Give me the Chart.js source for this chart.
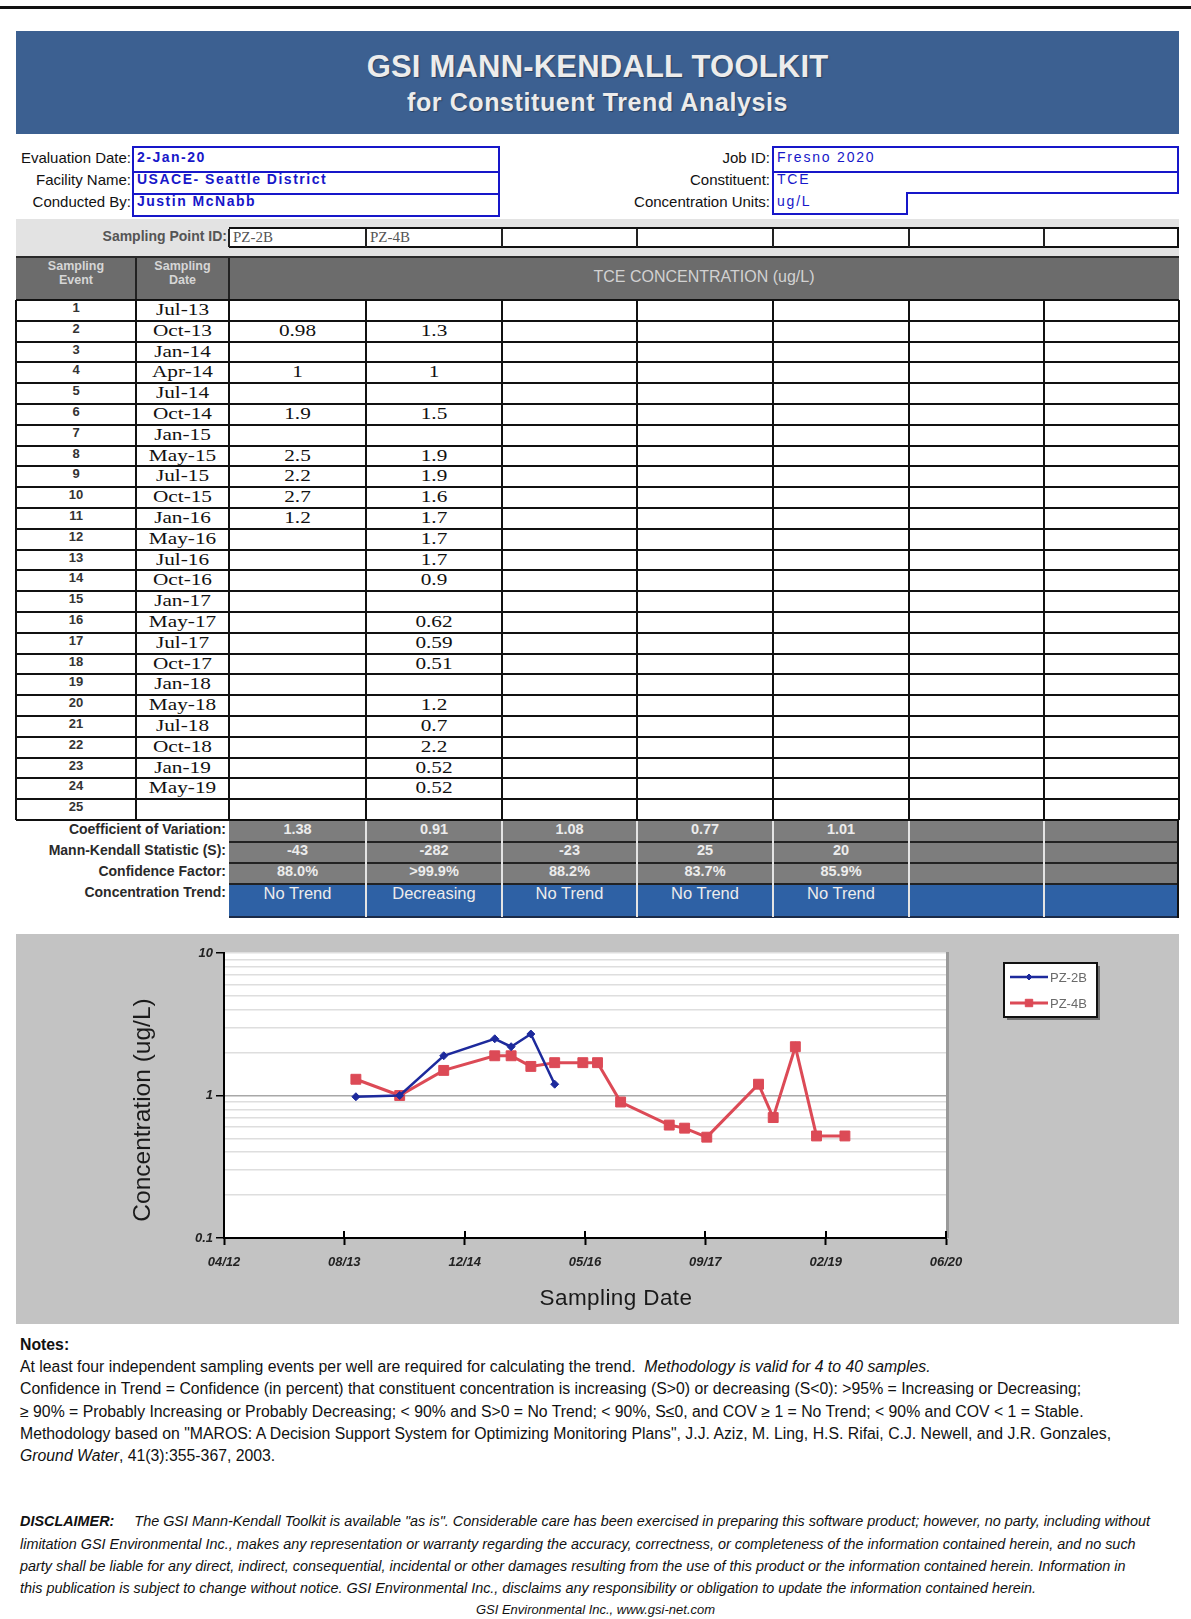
<!DOCTYPE html>
<html>
<head>
<meta charset="utf-8">
<script src="https://cdn.jsdelivr.net/npm/chart.js@4.4.1/dist/chart.umd.min.js"></script>
<style>
html,body{margin:0;padding:0;background:#fff;}
body{width:1191px;height:1619px;position:relative;overflow:hidden;font-family:"Liberation Sans",Arial,sans-serif;color:#111;}
#chartBox{position:absolute;left:16px;top:934px;width:1163px;height:390px;background:#c3c3c3;}
#c{position:absolute;left:16px;top:934px;}
.t{position:absolute;white-space:nowrap;}
</style>
</head>
<body>
<div id="chartBox"></div>
<canvas id="c" width="1163" height="390"></canvas>
<script>
// ---------------- DATA ----------------
const eventNumbers = [1,2,3,4,5,6,7,8,9,10,11,12,13,14,15,16,17,18,19,20,21,22,23,24,25];
const dateLabels = ['Jul-13','Oct-13','Jan-14','Apr-14','Jul-14','Oct-14','Jan-15','May-15','Jul-15','Oct-15','Jan-16','May-16','Jul-16','Oct-16','Jan-17','May-17','Jul-17','Oct-17','Jan-18','May-18','Jul-18','Oct-18','Jan-19','May-19',''];
const sampleDates = ['2013-07-01','2013-10-01','2014-01-01','2014-04-01','2014-07-01','2014-10-01','2015-01-01','2015-05-01','2015-07-08','2015-09-28','2016-01-05','2016-05-01','2016-07-01','2016-10-05','2017-01-01','2017-04-25','2017-06-28','2017-09-28','2018-01-01','2018-05-01','2018-07-01','2018-10-01','2018-12-28','2019-04-25',null];
const pz2b = [null,0.98,null,1,null,1.9,null,2.5,2.2,2.7,1.2,null,null,null,null,null,null,null,null,null,null,null,null,null,null];
const pz4b = [null,1.3,null,1,null,1.5,null,1.9,1.9,1.6,1.7,1.7,1.7,0.9,null,0.62,0.59,0.51,null,1.2,0.7,2.2,0.52,0.52,null];
const pointIds = ['PZ-2B','PZ-4B','','','','',''];
const coefVar = ['1.38','0.91','1.08','0.77','1.01','',''];
const mkStat = ['-43','-282','-23','25','20','',''];
const confFactor = ['88.0%','>99.9%','88.2%','83.7%','85.9%','',''];
const trendResult = ['No Trend','Decreasing','No Trend','No Trend','No Trend','',''];
const xTickLabels = ['04/12','08/13','12/14','05/16','09/17','02/19','06/20'];
const xAxisStart = 41000, xAxisEnd = 44000, xAxisStep = 500;
const yLabelValues = [0.1, 1, 10];
const yGridValues = [0.1,0.2,0.3,0.4,0.5,0.6,0.7,0.8,0.9,1,2,3,4,5,6,7,8,9,10];

// ---------------- PAGE LAYOUT ----------------
function el(css, text, cls){
  const e = document.createElement('div');
  e.style.cssText = 'position:absolute;' + css;
  if (cls) e.className = cls;
  if (text != null) e.textContent = text;
  document.body.appendChild(e);
  return e;
}
function rect(x,y,w,h,c){ return el(`left:${x}px;top:${y}px;width:${w}px;height:${h}px;background:${c};`); }

// top rule
rect(0,6,1191,3,'#111');
// banner
rect(16,31,1163,103,'#3c6091');
el('left:16px;top:49px;width:1163px;text-align:center;font:bold 31px "Liberation Sans",Arial;color:#ececec;letter-spacing:0.2px;text-shadow:1px 1px 1px #2a4060;','GSI MANN-KENDALL TOOLKIT','t');
el('left:16px;top:88px;width:1163px;text-align:center;font:bold 25px "Liberation Sans",Arial;color:#ececec;letter-spacing:0.6px;text-shadow:1px 1px 1px #2a4060;','for Constituent Trend Analysis','t');

// header fields
const leftLabels = ['Evaluation Date:','Facility Name:','Conducted By:'];
const leftValues = ['2-Jan-20','USACE- Seattle District','Justin McNabb'];
const rightLabels = ['Job ID:','Constituent:','Concentration Units:'];
const rightValues = ['Fresno 2020','TCE','ug/L'];
const fieldTop = [149,171,193];
leftLabels.forEach((s,i)=> el(`left:0px;width:131px;top:${fieldTop[i]}px;height:22px;line-height:22px;text-align:right;font:15px "Liberation Sans",Arial;color:#111;`, s, 't'));
rightLabels.forEach((s,i)=> el(`left:500px;width:270px;top:${fieldTop[i]}px;height:22px;line-height:22px;text-align:right;font:15px "Liberation Sans",Arial;color:#111;`, s, 't'));
const BLUE = '#1717c9';
el(`left:132px;top:146px;width:364px;height:67px;border:2px solid ${BLUE};background:#fff;`);
rect(132,171,368,2,BLUE); rect(132,193,368,2,BLUE);
leftValues.forEach((s,i)=> el(`left:137px;top:${fieldTop[i]}px;height:22px;line-height:23px;font:bold 14px "Liberation Sans",Arial;color:${BLUE};letter-spacing:1.5px;`, s, 't'));
el(`left:772px;top:146px;width:403px;height:44px;border:2px solid ${BLUE};background:#fff;`);
rect(772,171,407,2,BLUE);
el(`left:772px;top:192px;width:132px;height:21px;border:2px solid ${BLUE};border-top:none;background:#fff;`);
rightValues.forEach((s,i)=> el(`left:777px;top:${fieldTop[i]}px;height:22px;line-height:23px;font:14px "Liberation Sans",Arial;color:${BLUE};letter-spacing:1.8px;`, s, 't'));

// sampling point id row
const colX = [16,136,229,366,502,637,773,909,1044,1179];
rect(16,219,1163,39,'#e3e3e3');
rect(229,228,950,19,'#fff');
rect(229,227,950,2,'#111'); rect(229,246,950,2,'#111');
el('left:0px;width:227px;top:228px;height:20px;line-height:20px;text-align:right;font:bold 14px "Liberation Sans",Arial;color:#555;','Sampling Point ID:','t');
for (let c=0;c<7;c++){
  rect(colX[c+2]-1,229,2,18,'#222');
  el(`left:${colX[c+2]+4}px;top:229px;height:19px;line-height:19px;font:15px "Liberation Serif","Times New Roman";color:#555;`, pointIds[c], 't');
}
rect(1177,227,2,21,'#111');

// column header
rect(16,256,1163,44,'#6c6c6c');
rect(16,256,1163,2,'#2a2a2a');
rect(135,258,2,42,'#222'); rect(228,258,2,42,'#222');
const h1 = el('left:16px;width:120px;top:259px;line-height:18px;text-align:center;font:bold 12.5px "Liberation Sans",Arial;color:#d6d6d6;');
h1.innerHTML = 'Sampling<br>Event';
const h2 = el('left:136px;width:93px;top:259px;line-height:18px;text-align:center;font:bold 12.5px "Liberation Sans",Arial;color:#d6d6d6;');
h2.innerHTML = 'Sampling<br>Date';
el('left:229px;width:950px;top:268px;height:22px;line-height:22px;text-align:center;font:16px "Liberation Sans",Arial;color:#d2d2d2;','TCE CONCENTRATION (ug/L)','t');

// data rows
const rowTop = 300, rowH = 20.8;
rect(16,rowTop,1163,rowH*25,'#fff');
const cellText = 'text-align:center;font:17px "Liberation Serif","Times New Roman";color:#111;transform:scaleX(1.25);';
eventNumbers.forEach((n,i)=>{
  const y = rowTop + i*rowH;
  el(`left:16px;width:120px;top:${y}px;height:${rowH}px;line-height:${rowH+1}px;text-align:center;font:bold 13px "Liberation Sans",Arial;color:#333;`, String(n), 't');
  el(`left:136px;width:93px;top:${y}px;height:${rowH}px;line-height:${rowH+1}px;${cellText}`, dateLabels[i], 't');
  [pz2b,pz4b].forEach((arr,k)=>{
    if (arr[i]!=null) el(`left:${colX[k+2]}px;width:${colX[k+3]-colX[k+2]}px;top:${y}px;height:${rowH}px;line-height:${rowH+1}px;${cellText}`, String(arr[i]), 't');
  });
});
for (let i=0;i<=25;i++) rect(16, Math.round(rowTop + i*rowH)-1, 1163, 2, '#111');
colX.forEach(x=> rect(x-1, rowTop, 2, Math.round(rowH*25), '#111'));

// statistics rows
const statLabels = ['Coefficient of Variation:','Mann-Kendall Statistic (S):','Confidence Factor:','Concentration Trend:'];
const statRows = [coefVar, mkStat, confFactor, trendResult];
const statTop = [821,842,863,884], statH = [21,21,21,33];
statLabels.forEach((s,i)=>{
  el(`left:0px;width:226px;top:${statTop[i]}px;height:${statH[i]}px;line-height:${statH[i]}px;text-align:right;font:bold 14px "Liberation Sans",Arial;color:#2a2a2a;`, s, 't');
  const bg = i===3 ? '#2e61a5' : '#7d7d7d';
  rect(229, statTop[i], 950, statH[i], bg);
  for (let c=0;c<7;c++){
    const txt = statRows[i][c];
    const fnt = i===3 ? '16.5px "Liberation Sans",Arial' : 'bold 14.5px "Liberation Sans",Arial';
    if (txt) el(`left:${colX[c+2]}px;width:${colX[c+3]-colX[c+2]}px;top:${statTop[i]}px;height:${statH[i]}px;line-height:${statH[i]}px;text-align:center;font:${fnt};color:#ececec;`, txt, 't');
  }
});
[842,863,884].forEach(y=> rect(229,y-1,950,2,'#222'));
rect(229,916,950,2,'#1b2b48');
[366,502,637,773,909,1044].forEach(x=> rect(x-1,821,2,96,'#e4e4e4'));
rect(1177,821,2,97,'#111');

// axis titles
el('left:-8px;top:1096px;width:300px;height:28px;line-height:28px;text-align:center;font:24.5px "Liberation Sans",Arial;color:#1a1a1a;transform:rotate(-90deg);transform-origin:150px 14px;','Concentration (ug/L)','t');
el('left:416px;top:1285px;width:400px;height:28px;line-height:28px;text-align:center;font:22.5px "Liberation Sans",Arial;color:#1a1a1a;letter-spacing:0.4px;','Sampling Date','t');

// notes
const NF = '15.8px "Liberation Sans",Arial';
el(`left:20px;top:1336px;line-height:22px;font:bold ${NF};`,'Notes:','t');
const n1 = el(`left:20px;top:1358px;line-height:22px;font:${NF};`, null, 't');
n1.innerHTML = 'At least four independent sampling events per well are required for calculating the trend.&nbsp; <i>Methodology is valid for 4 to 40 samples.</i>';
el(`left:20px;top:1380px;line-height:22px;font:${NF};`,'Confidence in Trend = Confidence (in percent) that constituent concentration is increasing (S>0) or decreasing (S<0):  >95% = Increasing or Decreasing;','t');
el(`left:20px;top:1403px;line-height:22px;font:${NF};`,'\u2265 90% = Probably Increasing or Probably Decreasing;  < 90% and S>0 = No Trend; < 90%, S\u22640, and COV  \u2265 1 = No Trend; < 90% and COV  < 1 = Stable.','t');
el(`left:20px;top:1425px;line-height:22px;font:${NF};`,'Methodology based on "MAROS: A Decision Support System for Optimizing Monitoring Plans", J.J. Aziz, M. Ling, H.S. Rifai, C.J. Newell, and J.R. Gonzales,','t');
const n5 = el(`left:20px;top:1447px;line-height:22px;font:${NF};`, null, 't');
n5.innerHTML = '<i>Ground Water</i>, 41(3):355-367, 2003.';

// disclaimer
const DF = 'italic 14.4px "Liberation Sans",Arial';
const d1 = el(`left:20px;top:1513px;line-height:22px;font:${DF};`, null, 't');
d1.innerHTML = '<b>DISCLAIMER:</b>&nbsp;&nbsp;&nbsp;&nbsp; The GSI Mann-Kendall Toolkit is available "as is". Considerable care has been exercised in preparing this software product; however, no party, including without';
el(`left:20px;top:1536px;line-height:22px;font:${DF};`,'limitation GSI Environmental Inc., makes any representation or warranty regarding the accuracy, correctness, or completeness of the information contained herein, and no such','t');
el(`left:20px;top:1558px;line-height:22px;font:${DF};`,'party shall be liable for any direct, indirect, consequential, incidental or other damages resulting from the use of this product or the information contained herein.  Information in','t');
el(`left:20px;top:1580px;line-height:22px;font:${DF};`,'this publication is subject to change without notice.  GSI Environmental Inc., disclaims any responsibility or obligation to update the information contained herein.','t');
el(`left:0px;width:1191px;top:1602px;line-height:20px;text-align:center;font:italic 13px "Liberation Sans",Arial;`,'GSI Environmental Inc., www.gsi-net.com','t');

// ---------------- CHART ----------------
const toSerial = d => Math.round((Date.parse(d) - Date.UTC(1899,11,30)) / 86400000);
const series = vals => sampleDates.map((d,i)=> (d && vals[i]!=null) ? {x: toSerial(d), y: vals[i]} : null).filter(Boolean);

const plotBg = {
  id:'plotBg',
  beforeDraw(chart){
    const a = chart.chartArea, ctx = chart.ctx;
    ctx.save();
    ctx.fillStyle = '#9a9a9a';
    ctx.fillRect(a.left+2, a.top-1, a.right-a.left+1, a.bottom-a.top+1);
    ctx.fillStyle = '#ffffff';
    ctx.fillRect(a.left, a.top, a.right-a.left, a.bottom-a.top);
    ctx.restore();
  }
};
const innerTicks = {
  id:'innerTicks',
  afterDraw(chart){
    const xs = chart.scales.x, ctx = chart.ctx, b = chart.chartArea.bottom;
    ctx.save(); ctx.strokeStyle = '#000'; ctx.lineWidth = 2;
    xs.ticks.forEach(t=>{ const px = Math.round(xs.getPixelForValue(t.value)); if (px > chart.chartArea.left+2){ ctx.beginPath(); ctx.moveTo(px, b); ctx.lineTo(px, b-7); ctx.stroke(); } });
    ctx.restore();
  }
};
const boxLegend = {
  id:'boxLegend',
  afterDraw(chart){
    const ctx = chart.ctx, x = 988, y = 29, w = 93, h = 54;
    ctx.save();
    ctx.fillStyle = '#707070'; ctx.fillRect(x+3, y+3, w, h);
    ctx.fillStyle = '#ffffff'; ctx.fillRect(x, y, w, h);
    ctx.lineWidth = 2; ctx.strokeStyle = '#111'; ctx.strokeRect(x, y, w, h);
    chart.data.datasets.forEach((ds,i)=>{
      const cy = y + 14 + i*26;
      ctx.strokeStyle = ds.borderColor; ctx.lineWidth = ds.borderWidth;
      ctx.beginPath(); ctx.moveTo(x+6, cy); ctx.lineTo(x+44, cy); ctx.stroke();
      ctx.fillStyle = ds.backgroundColor; ctx.strokeStyle = ds.borderColor; ctx.lineWidth = 1;
      Chart.helpers.drawPoint(ctx, {pointStyle: ds.pointStyle, radius: ds.pointRadius*0.75, rotation: 0, borderWidth: 1}, x+25, cy);
      ctx.fillStyle = '#6a6a6a'; ctx.font = '13px "Liberation Sans", Arial'; ctx.textBaseline = 'middle';
      ctx.fillText(ds.label, x+46, cy+1);
    });
    ctx.restore();
  }
};

const tickFont = {family:'"Liberation Sans", Arial', size:13, style:'italic', weight:'bold'};
new Chart(document.getElementById('c'), {
  type:'line',
  data:{
    datasets:[
      {label:'PZ-2B', data:series(pz2b), borderColor:'#1d2a9c', backgroundColor:'#1d2a9c', borderWidth:2.5, pointStyle:'rectRot', pointRadius:4, pointBorderWidth:1, tension:0},
      {label:'PZ-4B', data:series(pz4b), borderColor:'#dc4a56', backgroundColor:'#dc4a56', borderWidth:3, pointStyle:'rect', pointRadius:7, pointBorderWidth:1, tension:0}
    ]
  },
  options:{
    responsive:false, animation:false, devicePixelRatio:1,
    layout:{padding:{left:100, right:233, top:19, bottom:0}},
    plugins:{legend:{display:false}, tooltip:{enabled:false}},
    scales:{
      x:{
        type:'linear', min:xAxisStart, max:xAxisEnd,
        afterFit(s){ s.height = 86; },
        border:{color:'#000', width:2},
        grid:{drawOnChartArea:false, tickLength:7, tickColor:'#000', tickWidth:2},
        ticks:{stepSize:xAxisStep, autoSkip:false, maxRotation:0, padding:10, color:'#222', font:tickFont,
          callback:v => xTickLabels[Math.round((v - xAxisStart)/xAxisStep)] || ''}
      },
      y:{
        type:'logarithmic', min:0.1, max:10,
        afterFit(s){ s.width = 108; },
        afterBuildTicks(s){ s.ticks = yGridValues.map(v=>({value:v})); },
        border:{color:'#000', width:2},
        grid:{
          color:ctx => { const v = ctx.tick ? ctx.tick.value : null; if (v===1) return '#a8a8a8'; if (v===0.1) return 'rgba(0,0,0,0)'; return '#dedede'; },
          tickColor:ctx => (ctx.tick && yLabelValues.includes(ctx.tick.value)) ? '#000' : 'rgba(0,0,0,0)',
          tickLength:8, lineWidth:1.5
        },
        ticks:{autoSkip:false, padding:3, color:'#222', font:tickFont,
          callback:v => yLabelValues.includes(v) ? String(v) : ''}
      }
    }
  },
  plugins:[plotBg, innerTicks, boxLegend]
});
</script>
</body>
</html>
